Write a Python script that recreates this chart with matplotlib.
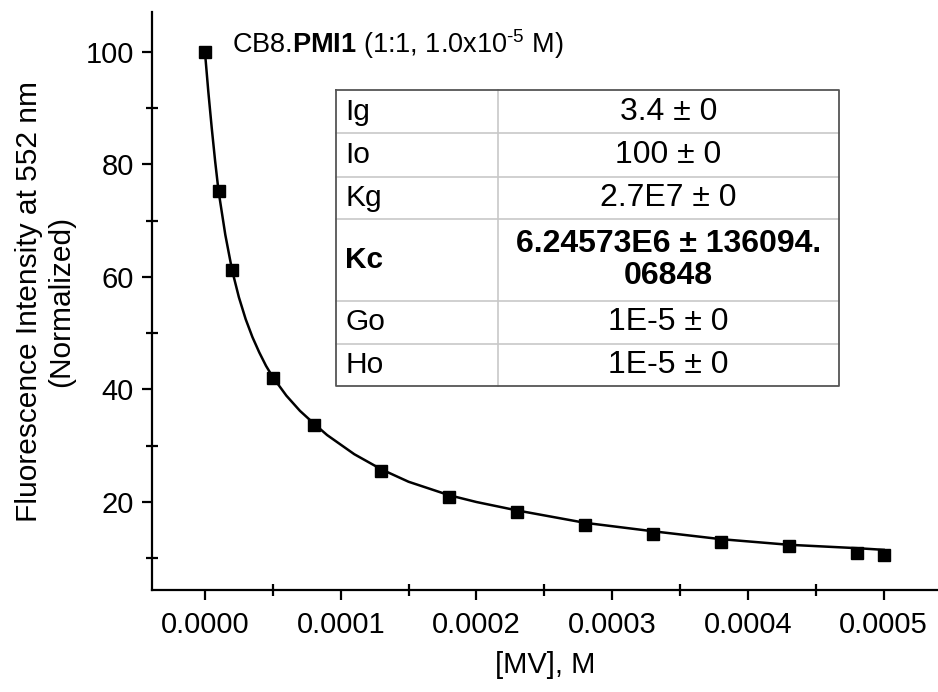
import matplotlib
matplotlib.use("Agg")
import matplotlib.pyplot as plt
from matplotlib.ticker import MultipleLocator
from matplotlib.lines import Line2D

plt.rcParams['font.family'] = ['Liberation Sans', 'DejaVu Sans']
plt.rcParams['mathtext.fontset'] = 'custom'
plt.rcParams['mathtext.rm'] = 'Liberation Sans'
plt.rcParams['mathtext.bf'] = 'Liberation Sans:bold'
plt.rcParams['mathtext.it'] = 'Liberation Sans:italic'

# ---- data ----
mv_conc = [0, 0.00001, 0.00002, 0.00005, 0.00008, 0.00013, 0.00018, 0.00023,
           0.00028, 0.00033, 0.00038, 0.00043, 0.00048, 0.0005]
intensity = [100, 75.3, 61.2, 42.0, 33.7, 25.6, 20.9, 18.3,
             16.0, 14.3, 12.9, 12.1, 10.9, 10.6]

fit_x = [0, 0.0000025, 0.000005, 0.0000075, 0.00001, 0.000015, 0.00002, 0.000025,
         0.00003, 0.000035, 0.00004, 0.000045, 0.00005, 0.00006, 0.00007, 0.00008,
         0.00009, 0.0001, 0.00011, 0.00013, 0.00015, 0.00018, 0.0002, 0.00023,
         0.00028, 0.00033, 0.00038, 0.00043, 0.00048, 0.0005]
fit_y = [100, 92.9, 86.5, 80.6, 75.3, 67.5, 61.2, 56.4,
         52.5, 49.3, 46.6, 44.2, 42.2, 38.9, 36.2, 34.0,
         31.9, 30.2, 28.5, 25.8, 23.6, 21.2, 20.0, 18.5,
         16.3, 14.8, 13.4, 12.4, 11.8, 11.5]

x_ticks = [0.0, 0.0001, 0.0002, 0.0003, 0.0004, 0.0005]
x_ticklabels = ["0.0000", "0.0001", "0.0002", "0.0003", "0.0004", "0.0005"]
y_ticks = [20, 40, 60, 80, 100]

param_names = ["Ig", "Io", "Kg", "Kc", "Go", "Ho"]
param_values = ["3.4 ± 0", "100 ± 0", "2.7E7 ± 0", "6.24573E6 ± 136094.\n06848",
                "1E-5 ± 0", "1E-5 ± 0"]
param_bold = [False, False, False, True, False, False]

title_text = r"CB8.$\mathbf{PMI1}$ (1:1, 1.0x10$^{\text{-5}}$ M)"
xlabel_text = "[MV], M"
ylabel_text = "Fluorescence Intensity at 552 nm\n(Normalized)"

# ---- figure ----
W, H = 938, 692
fig = plt.figure(figsize=(W / 100, H / 100), dpi=100)
ax = fig.add_axes([152 / W, 1 - 590 / H, (W - 152) / W, (590 - 12) / H])

ax.plot(fit_x, fit_y, color='black', lw=1.8, solid_joinstyle='round', zorder=2)
ax.plot(mv_conc, intensity, linestyle='none', marker='s', ms=8.5,
        color='black', zorder=3)

ax.set_xlim(-0.000039, 0.00054)
ax.set_ylim(4.36, 107.1)

for s in ['top', 'right']:
    ax.spines[s].set_visible(False)
for s in ['left', 'bottom']:
    ax.spines[s].set_linewidth(1.6)

ax.set_xticks(x_ticks)
ax.set_xticklabels(x_ticklabels)
ax.set_yticks(y_ticks)
ax.xaxis.set_minor_locator(MultipleLocator(0.00005))
ax.yaxis.set_minor_locator(MultipleLocator(10))
ax.tick_params(which='major', direction='out', length=7, width=1.6,
               labelsize=21, pad=6)
ax.tick_params(which='minor', direction='inout', length=9, width=1.6)
ax.tick_params(axis='x', which='major', pad=8)

fig.text(545 / W, 1 - 665 / H, xlabel_text, ha='center', va='center', fontsize=21)
fig.text(45 / W, 1 - 301 / H, ylabel_text, ha='center', va='center',
         rotation=90, fontsize=21.5, multialignment='center', linespacing=1.15)

fig.text(232 / W, 1 - 44 / H, title_text, ha='left', va='center', fontsize=19.5)

# ---- parameter table ----
tx0, tx1, tx2 = 336, 498, 839
row_edges = [90, 133, 177, 219, 301, 344, 386]
inner = '#c8c8c8'
outer = '#555555'


def fx(px):
    return px / W


def fy(py):
    return 1 - py / H


for yy in row_edges[1:-1]:
    fig.add_artist(Line2D([fx(tx0), fx(tx2)], [fy(yy), fy(yy)], color=inner,
                          lw=1.2, transform=fig.transFigure))
fig.add_artist(Line2D([fx(tx1), fx(tx1)], [fy(row_edges[0]), fy(row_edges[-1])],
                      color=inner, lw=1.2, transform=fig.transFigure))
fig.add_artist(Line2D([fx(tx0), fx(tx2), fx(tx2), fx(tx0), fx(tx0)],
                      [fy(row_edges[0]), fy(row_edges[0]), fy(row_edges[-1]),
                       fy(row_edges[-1]), fy(row_edges[0])],
                      color=outer, lw=1.3, transform=fig.transFigure))

for i, (name, val, bold) in enumerate(zip(param_names, param_values, param_bold)):
    yc = (row_edges[i] + row_edges[i + 1]) / 2
    fw = 'bold' if bold else 'normal'
    fig.text(fx(tx0 + 9), fy(yc), name, ha='left', va='center',
             fontsize=21.5, fontweight=fw)
    fig.text(fx((tx1 + tx2) / 2), fy(yc), val, ha='center', va='center',
             fontsize=23, fontweight=fw, multialignment='center', linespacing=1.05)

fig.savefig("out.png", dpi=100)
